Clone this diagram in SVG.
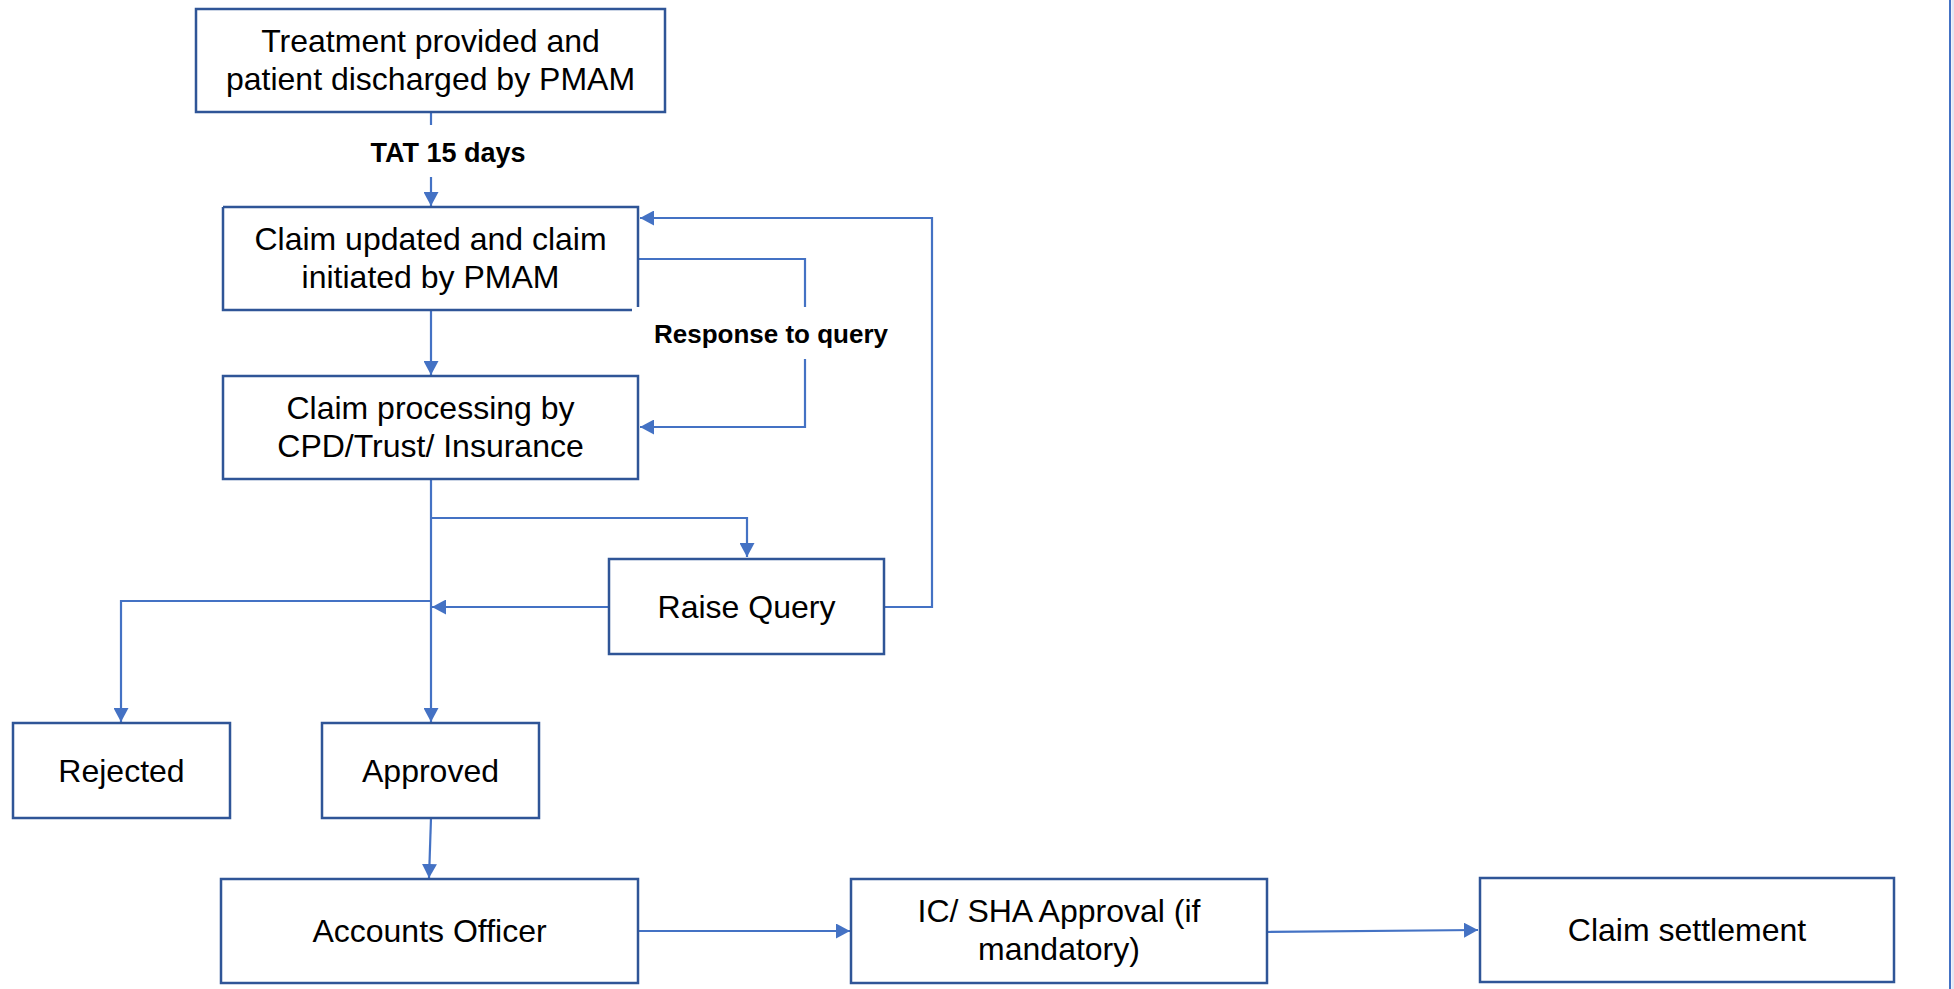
<svg xmlns="http://www.w3.org/2000/svg" width="1954" height="989" viewBox="0 0 1954 989">
<style>
.box{fill:#ffffff;stroke:#2F5597;stroke-width:2.5}
.t{font-family:"Liberation Sans",Arial,sans-serif;font-size:32px;fill:#000000;text-anchor:middle}
.lbl{font-family:"Liberation Sans",Arial,sans-serif;font-size:26px;font-weight:bold;fill:#000000;text-anchor:middle}
.c{fill:none;stroke:#4472C4;stroke-width:2.2}
</style>
<defs>
<marker id="ah" markerUnits="userSpaceOnUse" markerWidth="15" markerHeight="15" refX="14" refY="7.5" orient="auto">
<path d="M0,0 L14,7.5 L0,15 z" fill="#4472C4"/>
</marker>
</defs>
<rect x="0" y="0" width="1954" height="989" fill="#ffffff"/>
<line x1="1950" y1="0" x2="1950" y2="989" stroke="#4472C4" stroke-width="2"/>
<rect x="1951.5" y="0" width="2.5" height="989" fill="#E4E9F5"/>

<g id="connectors">
<line class="c" x1="431" y1="112" x2="431" y2="125"/>
<path class="c" d="M431,177 V206" marker-end="url(#ah)"/>
<path class="c" d="M431,310 V375" marker-end="url(#ah)"/>
<path class="c" d="M638,259 H805 V307"/>
<path class="c" d="M805,359 V427 H640" marker-end="url(#ah)"/>
<path class="c" d="M884,607 H932 V218 H640" marker-end="url(#ah)"/>
<path class="c" d="M431,479 V722" marker-end="url(#ah)"/>
<path class="c" d="M431,518 H747 V557" marker-end="url(#ah)"/>
<path class="c" d="M609,607 H432" marker-end="url(#ah)"/>
<path class="c" d="M431,601 H121 V722" marker-end="url(#ah)"/>
<path class="c" d="M431,818 L429,878" marker-end="url(#ah)"/>
<path class="c" d="M638,931 H850" marker-end="url(#ah)"/>
<path class="c" d="M1267,932 L1478,930" marker-end="url(#ah)"/>
<text class="lbl" x="448" y="162" style="font-size:27px">TAT 15 days</text>
<text class="lbl" x="771" y="343">Response to query</text>
</g>

<g id="n1">
<rect class="box" x="196" y="9" width="469" height="103"/>
<text class="t" x="430.5" y="52">Treatment provided and</text>
<text class="t" x="430.5" y="90">patient discharged by PMAM</text>
</g>
<g id="n2">
<rect x="223" y="207" width="415" height="103" fill="#ffffff"/>
<path d="M223,207 H638 V307 M632,310 H223 V207" fill="none" stroke="#2F5597" stroke-width="2.5"/>
<text class="t" x="430.5" y="250">Claim updated and claim</text>
<text class="t" x="430.5" y="288">initiated by PMAM</text>
</g>
<g id="n3">
<rect class="box" x="223" y="376" width="415" height="103"/>
<text class="t" x="430.5" y="419">Claim processing by</text>
<text class="t" x="430.5" y="457">CPD/Trust/ Insurance</text>
</g>
<g id="n4">
<rect class="box" x="609" y="559" width="275" height="95"/>
<text class="t" x="746.5" y="618">Raise Query</text>
</g>
<g id="n5">
<rect class="box" x="13" y="723" width="217" height="95"/>
<text class="t" x="121.5" y="782">Rejected</text>
</g>
<g id="n6">
<rect class="box" x="322" y="723" width="217" height="95"/>
<text class="t" x="430.5" y="782">Approved</text>
</g>
<g id="n7">
<rect class="box" x="221" y="879" width="417" height="104"/>
<text class="t" x="429.5" y="942">Accounts Officer</text>
</g>
<g id="n8">
<rect class="box" x="851" y="879" width="416" height="104"/>
<text class="t" x="1059" y="922">IC/ SHA Approval (if</text>
<text class="t" x="1059" y="960">mandatory)</text>
</g>
<g id="n9">
<rect class="box" x="1480" y="878" width="414" height="104"/>
<text class="t" x="1687" y="941">Claim settlement</text>
</g>
</svg>
